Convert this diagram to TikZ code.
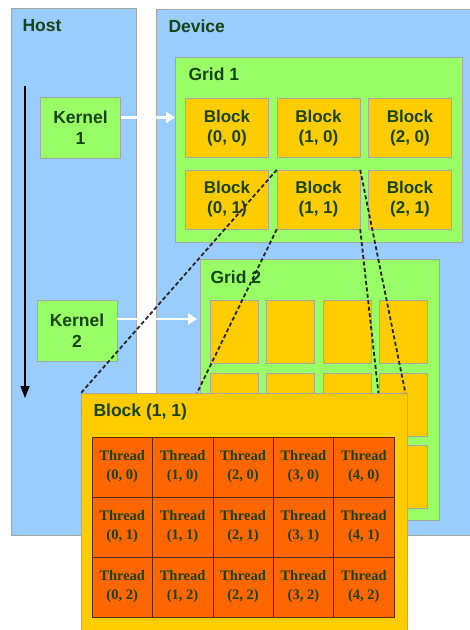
\documentclass[tikz,border=0pt]{standalone}
\usepackage{fontspec}
\setmainfont{Liberation Sans}
\newfontfamily\thrfont{Liberation Serif}
\definecolor{cHost}{HTML}{99CCFF}
\definecolor{cGrid}{HTML}{99FF66}
\definecolor{cBlock}{HTML}{FFCC00}
\definecolor{cThread}{HTML}{FF6600}
\definecolor{cText}{HTML}{174317}
\definecolor{cEdge}{HTML}{A6A6A6}
\definecolor{cLine}{HTML}{5A2A00}
\usetikzlibrary{arrows.meta}

\begin{document}
\begin{tikzpicture}[x=1pt, y=-1pt,
  panel/.style={draw=cEdge, fill=cHost, anchor=north west, inner sep=0pt},
  gridbox/.style={draw=cEdge, fill=cGrid, anchor=north west, inner sep=0pt},
  kern/.style={draw=cEdge, fill=cGrid, minimum width=80pt, minimum height=61pt,
              inner sep=0pt, align=center, text=cText,
              font=\bfseries\fontsize{17.5}{21}\selectfont},
  blk/.style={draw=cEdge, fill=cBlock, minimum width=83pt, minimum height=59pt,
              inner sep=0pt, align=center, text=cText,
              font=\bfseries\fontsize{17}{20}\selectfont},
  sblk/.style={draw=cEdge, fill=cBlock, anchor=north west, inner sep=0pt,
              minimum width=48pt, minimum height=63pt},
  thr/.style={draw=cLine, fill=cThread, minimum width=60.4pt, minimum height=60pt,
              inner sep=0pt, align=center, text=cText,
              font=\thrfont\bfseries\fontsize{14.5}{19}\selectfont},
  lbl/.style={anchor=base west, text=cText, font=\bfseries\fontsize{17.5}{20}\selectfont},
  warrow/.style={draw=white, line width=2.5pt, -{Triangle[length=9pt, width=11pt]}},
  zoomline/.style={black!85, line width=1.8pt, dash pattern=on 4pt off 2.5pt}]

  \useasboundingbox[fill=white] (0,0) rectangle (470,630);

  \node[panel, minimum width=125pt, minimum height=527pt] (host) at (11,8) {};
  \node[panel, minimum width=320pt, minimum height=526pt] (dev) at (156,9) {};
  \node[lbl] (hostlbl) at (19,31) {Host};
  \node[lbl] (devlbl) at (165,32) {Device};

  \coordinate (tstart) at (25,86);
  \coordinate (tend) at (25,398);
  \draw[line width=1.5pt, -{Triangle[length=12pt, width=9pt]}] (tstart) -- (tend);

  \node[kern] (k1) at (80.5,127.5) {Kernel\\1};
  \node[kern] (k2) at (77,331) {Kernel\\2};

  \node[gridbox, minimum width=287pt, minimum height=185pt] (g1) at (175,57) {};
  \node[lbl] (g1lbl) at (185,80) {Grid 1};
  \foreach \i/\x in {0/227,1/318.5,2/410}
    \foreach \j/\y in {0/128,1/199.5}
      \node[blk] (b\i\j) at (\x,\y) {Block\\(\i, \j)};

  \node[gridbox, minimum width=239pt, minimum height=261pt] (g2) at (200,259) {};
  \node[lbl] (g2lbl) at (207,283) {Grid 2};
  \foreach \i/\x in {0/210,1/266,2/323,3/379}
    \foreach \j/\y in {0/300,1/373,2/445}
      \node[sblk] (c\i\j) at (\x,\y) {};

  \draw[warrow] ([yshift=10pt]k1.east) -- ([yshift=10pt]k1.east -| g1.west);
  \draw[warrow] ([yshift=12pt]k2.east) -- ([yshift=12pt,xshift=-3pt]k2.east -| g2.west);

  \node[panel, fill=cBlock, minimum width=326pt, minimum height=245pt] (blk11) at (81,393) {};
  \draw[zoomline] (b11.north west) -- (blk11.north west);
  \draw[zoomline] (b11.south west) -- ([xshift=116pt]blk11.north west);
  \draw[zoomline] (b11.north east) -- ([xshift=-2pt]blk11.north east);
  \draw[zoomline] (b11.south east) -- ([xshift=-29pt]blk11.north east);
  \node[lbl] (blklbl) at (90,416) {Block (1, 1)};

  \foreach \i in {0,...,4}
    \foreach \j in {0,...,2}
      \node[thr] (t\i\j) at ({122.2+60.4*\i},{467+60*\j}) {Thread\\(\i, \j)};
\end{tikzpicture}
\end{document}
